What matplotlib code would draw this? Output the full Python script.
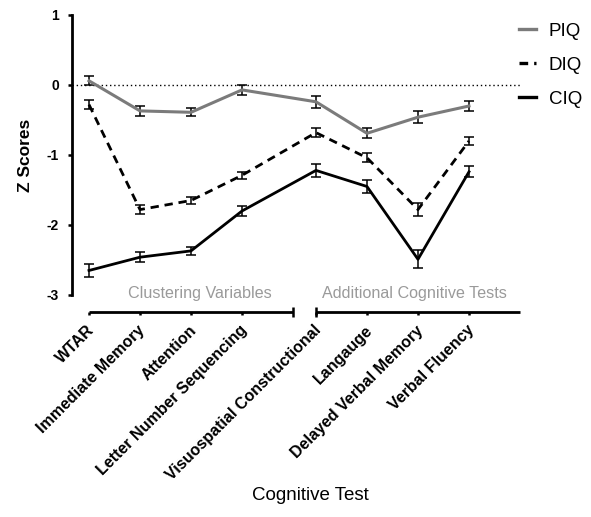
import matplotlib
matplotlib.use("Agg")
import matplotlib.pyplot as plt
import matplotlib.transforms as mtransforms
from matplotlib.lines import Line2D

plt.rcParams['font.family'] = ['Liberation Sans', 'DejaVu Sans']

# ---------------- data ----------------
tests = ["WTAR", "Immediate Memory", "Attention", "Letter Number Sequencing",
         "Visuospatial Constructional", "Langauge", "Delayed Verbal Memory", "Verbal Fluency"]
group_sizes = [4, 4]           # clustering variables, additional tests
group_names = ["Clustering Variables", "Additional Cognitive Tests"]

piq = [0.06, -0.37, -0.39, -0.07, -0.24, -0.69, -0.46, -0.30]
piq_err = [0.067, 0.07, 0.06, 0.067, 0.088, 0.07, 0.086, 0.07]
diq = [-0.28, -1.78, -1.65, -1.29, -0.68, -1.04, -1.78, -0.80]
diq_err = [0.06, 0.067, 0.043, 0.047, 0.07, 0.067, 0.095, 0.064]
ciq = [-2.65, -2.46, -2.37, -1.80, -1.22, -1.45, -2.49, -1.24]
ciq_err = [0.088, 0.074, 0.06, 0.076, 0.09, 0.086, 0.13, 0.076]

yticks = [1, 0, -1, -2, -3]

# ---------------- layout ----------------
gap = 0.45
xpos = []
seg_bounds = []
start = 0.0
for gi, n in enumerate(group_sizes):
    xs = [start + i for i in range(n)]
    xpos += xs
    seg_bounds.append((xs[0], xs[-1] + 1))
    start = xs[-1] + 1 + gap

fig = plt.figure(figsize=(5.91, 5.17), dpi=100)
W, H = 591, 517
ax = fig.add_axes([72 / W, (H - 312) / H, 448 / W, 297 / H])
ax.set_xlim(-0.333, seg_bounds[-1][1])
ax.set_ylim(-3.243, 1)

grey = '#7b7b7b'
lw = 2.0
ax.axhline(0, color='black', lw=1.0, ls=(0, (1, 2.0)), zorder=1)

ax.errorbar(xpos, piq, yerr=piq_err, color=grey, lw=2.2, ecolor='black',
            elinewidth=1.1, capsize=3.6, capthick=1.1, zorder=3, label='PIQ')
ax.errorbar(xpos, diq, yerr=diq_err, color='black', lw=lw, dashes=(3.0, 2.1),
            ecolor='black', elinewidth=1.1, capsize=3.6, capthick=1.1, zorder=3, label='DIQ')
ax.errorbar(xpos, ciq, yerr=ciq_err, color='black', lw=lw, ecolor='black',
            elinewidth=1.1, capsize=3.6, capthick=1.1, zorder=3, label='CIQ')

# spines
for s in ['top', 'right', 'bottom']:
    ax.spines[s].set_visible(False)
ax.spines['left'].set_linewidth(2.0)
ax.spines['left'].set_bounds(yticks[-1], yticks[0])
ax.set_yticks(yticks)
ax.set_yticklabels([str(v) for v in yticks], fontsize=10, fontweight='bold')
ax.tick_params(axis='y', length=3, width=1.8, pad=6.5)

# broken x axis
xtr = ax.get_xaxis_transform()
for (a, b) in seg_bounds:
    ax.plot([a, b], [0, 0], color='black', lw=2.0, transform=xtr, clip_on=False,
            solid_capstyle='butt', zorder=5)
caps = [seg_bounds[0][1], seg_bounds[1][0]]
ax.plot(caps, [0, 0], ls='none', marker='|', ms=6.5, mew=1.8, color='black',
        transform=xtr, clip_on=False, zorder=5)

ax.set_xticks(xpos)
ax.set_xticklabels(tests, rotation=45, ha='right', va='center',
                   rotation_mode='anchor', fontsize=11.5, fontweight='bold')
ax.tick_params(axis='x', length=2.5, width=1.8, pad=9)
off = mtransforms.ScaledTranslation(2 / 72, 0, fig.dpi_scale_trans)
for lab in ax.get_xticklabels():
    lab.set_transform(lab.get_transform() + off)

# group labels
label_shift = [0.18, -0.06]
for (a, b), name, sh in zip(seg_bounds, group_names, label_shift):
    ax.text((a + b) / 2 + sh, -2.98, name, ha='center', va='center',
            fontsize=11.6, color='#9a9a9a')

ax.set_ylabel('Z Scores', fontsize=12.5, fontweight='bold')
ax.yaxis.set_label_coords(-0.087, 0.529)
fig.text(310 / W, 1 - 495 / H, 'Cognitive Test', ha='center', va='center', fontsize=13.5)

handles = [Line2D([], [], color=grey, lw=2.4),
           Line2D([], [], color='black', lw=2.4, dashes=(2.6, 1.8)),
           Line2D([], [], color='black', lw=2.4)]
fig.legend(handles, ['PIQ', 'DIQ', 'CIQ'], loc='upper left',
           bbox_to_anchor=(502 / W, 1 - 6 / H), frameon=False, fontsize=13.5,
           handlelength=0.9, handletextpad=0.7, labelspacing=0.9)

fig.savefig('out.png', dpi=100)
